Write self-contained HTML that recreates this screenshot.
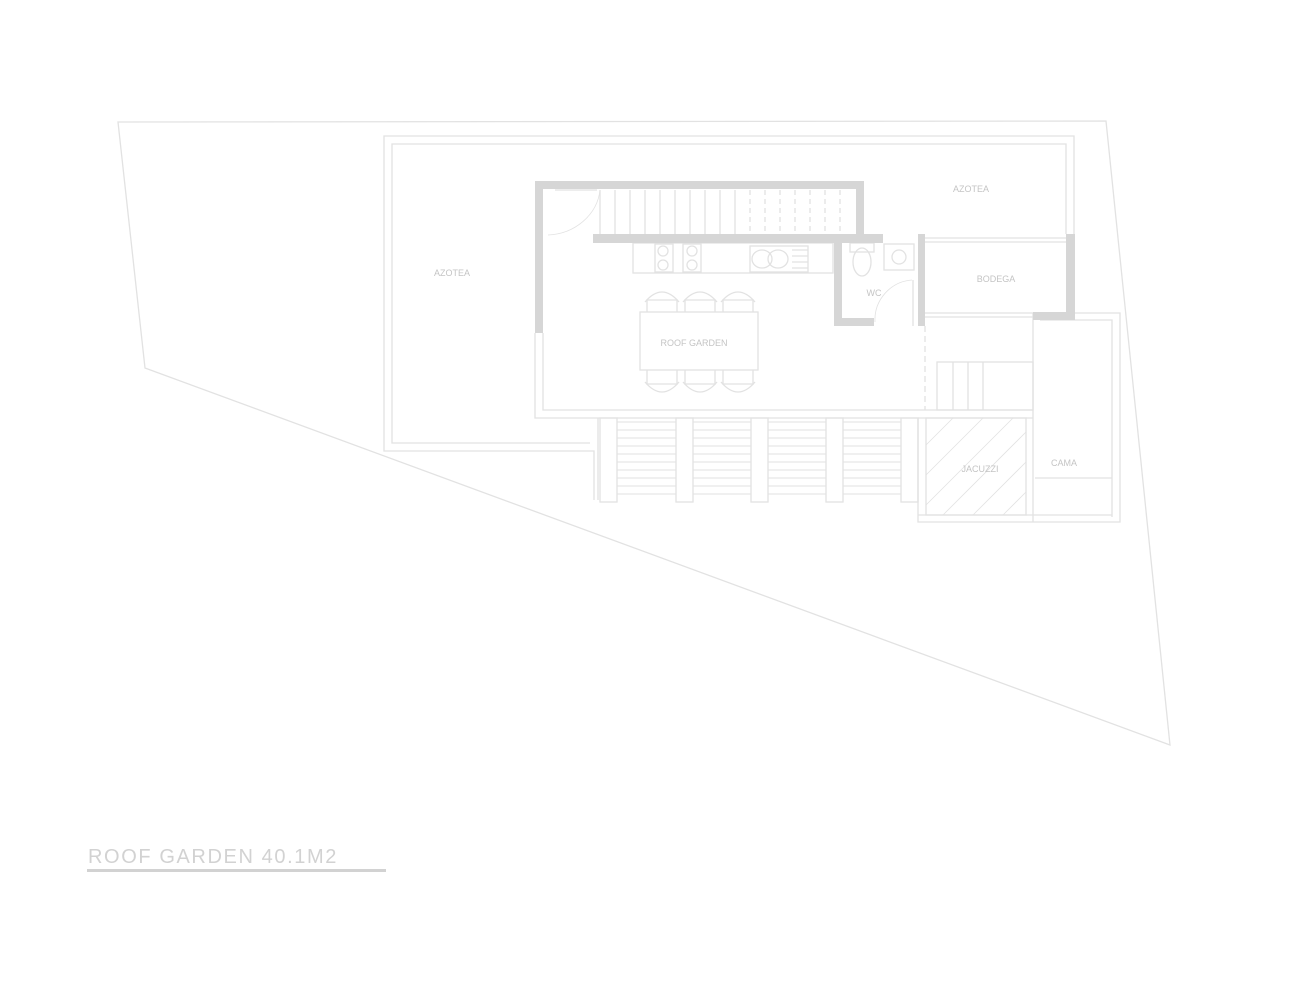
<!DOCTYPE html>
<html><head><meta charset="utf-8"><style>
html,body{margin:0;padding:0;background:#fff;width:1300px;height:1000px;overflow:hidden}
svg{display:block}
text{font-family:"Liberation Sans",sans-serif;fill:#c4c4c4}
</style></head><body>
<svg width="1300" height="1000" viewBox="0 0 1300 1000" xmlns="http://www.w3.org/2000/svg">
<g fill="none" stroke="#e2e2e2" stroke-width="1.3">
<polygon points="118,122 1106,121 1170,745 145,368"/>
<polyline points="594,500 594,451 384,451 384,136 1074,136 1074,234"/>
<polyline points="590,443 392,443 392,144 1066,144 1066,234"/>
<polyline points="543,333 543,410 1033,410"/>
<polyline points="535,333 535,418 1033,418"/>
<line x1="925" y1="326" x2="925" y2="410" stroke-dasharray="6,4"/>
<rect x="937" y="362" width="96" height="48"/>
<line x1="953" y1="362" x2="953" y2="410"/><line x1="968" y1="362" x2="968" y2="410"/><line x1="983" y1="362" x2="983" y2="410"/>
<line x1="925" y1="238" x2="1066" y2="238"/><line x1="925" y1="242" x2="1066" y2="242"/>
<line x1="925" y1="313" x2="1033" y2="313"/><line x1="925" y1="317" x2="1033" y2="317"/>
<polyline points="1075,313 1120,313 1120,522 918,522 918,418"/>
<polyline points="1040,320 1112,320 1112,517"/>
<line x1="1033" y1="313" x2="1033" y2="522"/>
<line x1="1035" y1="478" x2="1112" y2="478"/>
<line x1="918" y1="515" x2="1112" y2="515"/>
<rect x="926" y="418" width="100" height="97"/>
<g stroke-width="0.8">
<line x1="926" y1="445" x2="953" y2="418"/><line x1="926" y1="475" x2="983" y2="418"/><line x1="926" y1="505" x2="1013" y2="418"/>
<line x1="943" y1="515" x2="1026" y2="432"/><line x1="973" y1="515" x2="1026" y2="462"/><line x1="1003" y1="515" x2="1026" y2="492"/>
</g>
<line x1="598" y1="418" x2="598" y2="500"/>
<g>
<rect x="600" y="418" width="17" height="84"/><rect x="676" y="418" width="17" height="84"/><rect x="751" y="418" width="17" height="84"/><rect x="826" y="418" width="17" height="84"/><rect x="901" y="418" width="17" height="84"/>
</g>
<g stroke-width="1">
<path d="M617 422H676M617 430H676M617 438H676M617 446H676M617 454H676M617 462H676M617 470H676M617 478H676M617 486H676M617 494H676"/>
<path d="M693 422H751M693 430H751M693 438H751M693 446H751M693 454H751M693 462H751M693 470H751M693 478H751M693 486H751M693 494H751"/>
<path d="M768 422H826M768 430H826M768 438H826M768 446H826M768 454H826M768 462H826M768 470H826M768 478H826M768 486H826M768 494H826"/>
<path d="M843 422H901M843 430H901M843 438H901M843 446H901M843 454H901M843 462H901M843 470H901M843 478H901M843 486H901M843 494H901"/>
</g>
<path d="M600 190V235M615 190V235M630 190V235M645 190V235M660 190V235M675 190V235M690 190V235M705 190V235M720 190V235M735 190V235"/>
<path d="M750 190V235M765 190V235M780 190V235M795 190V235M810 190V235M825 190V235M840 190V235" stroke-dasharray="5,4"/>
<line x1="555" y1="190" x2="597" y2="190"/>
<path d="M600 190 A55 50 0 0 1 548 235" stroke-width="0.8"/>
<rect x="633" y="243" width="200" height="30"/>
<circle cx="663" cy="251" r="5"/><circle cx="663" cy="265" r="5"/><circle cx="692" cy="251" r="5"/><circle cx="692" cy="265" r="5"/>
<rect x="655" y="244" width="18" height="28"/><rect x="683" y="244" width="18" height="28"/>
<rect x="750" y="246" width="58" height="26"/>
<ellipse cx="762" cy="259" rx="10" ry="9"/><ellipse cx="778" cy="259" rx="10" ry="9"/>
<path d="M792 250H808M792 256H808M792 262H808M792 268H808"/>
<ellipse cx="862" cy="262" rx="9" ry="14"/><rect x="850" y="243" width="24" height="9"/>
<rect x="884" y="244" width="30" height="26"/><circle cx="899" cy="257" r="7"/>
<path d="M912 280 A40 40 0 0 0 875 322" stroke-width="0.8"/>
<line x1="913" y1="280" x2="913" y2="326"/>
<rect x="640" y="312" width="118" height="58"/>
<g id="ch">
<path d="M647 312V300H677V312"/><path d="M645 302Q662 282 679 302"/>
<path d="M647 370V384H677V370"/><path d="M645 382Q662 402 679 382"/>
</g>
<use href="#ch" x="38"/><use href="#ch" x="76"/>
</g>
<g fill="#d6d6d6">
<rect x="535" y="181" width="329" height="8"/>
<rect x="535" y="181" width="8" height="152"/>
<rect x="856" y="181" width="8" height="58"/>
<rect x="593" y="234" width="290" height="9"/>
<rect x="834" y="234" width="8" height="92"/>
<rect x="834" y="318" width="40" height="8"/>
<rect x="918" y="234" width="7" height="92"/>
<rect x="1066" y="234" width="9" height="86"/>
<rect x="1033" y="312" width="42" height="8"/>
</g>
<g font-size="9" text-anchor="middle">
<text x="452" y="276">AZOTEA</text>
<text x="971" y="192">AZOTEA</text>
<text x="996" y="282">BODEGA</text>
<text x="874" y="296">WC</text>
<text x="694" y="346">ROOF GARDEN</text>
<text x="980" y="472">JACUZZI</text>
<text x="1064" y="466">CAMA</text>
</g>
<text x="88" y="863" font-size="20" letter-spacing="1.6" style="fill:#d2d2d2">ROOF GARDEN 40.1M2</text>
<rect x="87" y="869" width="299" height="3" fill="#d2d2d2"/>
</svg>
</body></html>
